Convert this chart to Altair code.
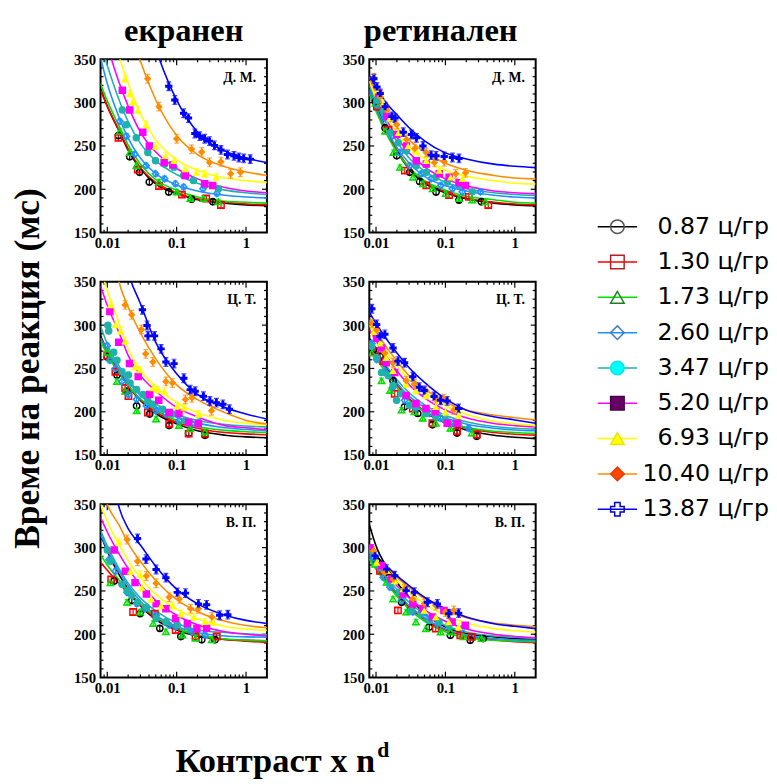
import altair as alt
import pandas as pd

# ---------------- labels ----------------
SERIES = ["0.87", "1.30", "1.73", "2.60", "3.47", "5.20", "6.93", "10.40", "13.87"]
LEGEND_LABELS = ["0.87 ц/гр", "1.30 ц/гр", "1.73 ц/гр", "2.60 ц/гр", "3.47 ц/гр",
                 "5.20 ц/гр", "6.93 ц/гр", "10.40 ц/гр", "13.87 ц/гр"]
COLUMN_TITLES = ["екранен", "ретинален"]
ROW_LABELS = ["Д. М.", "Ц. Т.", "В. П."]
Y_TITLE = "Време на реакция (мс)"
X_TITLE = "Контраст x n"
X_TITLE_SUP = "d"

X_LABEL_VALUES = [0.01, 0.1, 1]
Y_LABEL_VALUES = [150, 200, 250, 300, 350]
X_TICKS_MAJOR = [0.01, 0.1, 1]
X_TICKS_MINOR = [0.009, 0.02, 0.03, 0.04, 0.05, 0.06, 0.07, 0.08, 0.09,
                 0.2, 0.3, 0.4, 0.5, 0.6, 0.7, 0.8, 0.9]
Y_TICKS_MAJOR = [200, 250, 300]
Y_TICKS_MINOR = [160, 170, 180, 190, 210, 220, 230, 240, 260, 270, 280, 290,
                 310, 320, 330, 340]

# ---------------- styles ----------------
PLOT_COLORS = ["#000000", "#FF0000", "#00E000", "#1E90FF", "#20B2AA",
               "#FF00FF", "#FFFF00", "#FF8C00", "#0000FF"]
SHAPES = ["circle", "square", "triangle-up", "diamond", "circle", "square",
          "triangle-up", "diamond", "cross"]
ERR = [3, 3, 3, 3, 3, 3, 4, 5, 5]

LEG_LINE_COLORS = ["#000000", "#B22222", "#1E7F1E", "#4A7DC4", "#00FFFF",
                   "#9B4F9B", "#FFFF00", "#E0A070", "#4040A0"]
LEG_STROKE = ["#555555", "#B22222", "#1E7F1E", "#4A7DC4", "#00E5E5",
              "#4A004A", "#E5E500", "#E03A00", "#0000CC"]
LEG_FILL = ["transparent", "transparent", "transparent", "transparent", "#00FFFF",
            "#660066", "#FFFF00", "#FF4500", "transparent"]
LEG_SHAPES = ["circle", "square", "triangle-up", "diamond", "circle", "square",
              "triangle-up", "diamond", "M0,-1.2L0,1.2"]
LEG_ORDER = [0, 1, 2, 3, 4, 5, 6, 7, 8]

# ---------------- data ----------------
FIT_X = [0.008, 0.01, 0.015, 0.02, 0.03, 0.05, 0.1, 0.2, 0.5, 1, 2]

# екранен, Д. М.
SCR_DM_X = [
    [0.0145, 0.0211, 0.0292, 0.0404, 0.077, 0.164, 0.332],
    [0.0145, 0.0276, 0.0557, 0.119, 0.267, 0.435],
    [0.0152, 0.0211, 0.0262, 0.0557, 0.1, 0.158, 0.243, 0.40],
    [0.0152, 0.0189, 0.0248, 0.0363, 0.0496, 0.067, 0.0957, 0.126, 0.24, 0.38],
    [0.0165, 0.0189, 0.0262, 0.0384, 0.0496, 0.067, 0.0915, 0.126, 0.174, 0.253, 0.40],
    [0.0165, 0.0211, 0.0325, 0.0404, 0.066, 0.088, 0.133, 0.253, 0.33],
    [0.018, 0.0211, 0.0234, 0.0276, 0.0363, 0.0496, 0.069, 0.0915, 0.133, 0.193, 0.253, 0.37],
    [0.0382, 0.0557, 0.1, 0.164, 0.23, 0.298, 0.435, 0.60, 0.83],
    [0.077, 0.094, 0.126, 0.148, 0.183, 0.215, 0.253, 0.298, 0.351, 0.435, 0.540,
     0.670, 0.789, 0.927, 1.15],
]
SCR_DM_Y = [
    [262, 237.5, 219.7, 208.3, 196.9, 188.6, 185.6],
    [259.4, 222.7, 203.8, 193.9, 189.4, 181.8],
    [267, 242.4, 227.3, 208.3, 196.9, 189.4, 189.4, 185.6],
    [278.4, 261.3, 240.5, 227.3, 217.8, 212.1, 206.4, 202.6, 200.7, 195.0],
    [291.6, 274.6, 259.4, 242.4, 232.9, 229.1, 225.3, 215.9, 210.2, 204.5, 200.7],
    [314.4, 291.6, 265.9, 250, 231, 228, 215.9, 206.4, 204.5],
    [327.6, 310.6, 301.1, 291.6, 274.6, 250, 238.6, 232.9, 223.4, 219.7, 217.8, 214],
    [327.6, 295.4, 258.3, 246.2, 243.1, 231, 231.8, 217.8, 219.7],
    [318.9, 303, 287.8, 282.2, 264.4, 261.3, 258.3, 255.6, 250.7, 245.4, 240.1,
     238.6, 236.7, 235.6, 234.8],
]
SCR_DM_FIT = [
    [316, 296, 266, 245, 224, 206, 195, 188, 184, 182, 181],
    [314, 296, 267, 247, 225, 208, 196, 189, 185, 183, 182],
    [322, 302, 272, 251, 229, 211, 199, 191, 186, 185, 184],
    [352, 322, 282, 259, 236, 218, 205, 198, 193, 191, 190],
    [368, 343, 302, 278, 253, 233, 217, 207, 199, 196, 194],
    [405, 368, 322, 296, 266, 243, 224, 212, 202, 198, 196],
    [440, 400, 352, 322, 287, 257, 234, 222, 213, 210, 208],
    [520, 480, 425, 395, 348, 303, 262, 240, 226, 220, 216],
    [700, 620, 540, 480, 420, 362, 303, 266, 244, 236, 231],
]

# ретинален, Д. М.
RET_DM_X = [
    [0.0098, 0.0135, 0.0199, 0.0306, 0.0425, 0.0733, 0.157, 0.33],
    [0.0103, 0.0151, 0.026, 0.053, 0.113, 0.218, 0.415],
    [0.0098, 0.0135, 0.0178, 0.0221, 0.0342, 0.0474, 0.0657, 0.101, 0.157, 0.244, 0.376],
    [0.0103, 0.0135, 0.0169, 0.0221, 0.0306, 0.045, 0.0623, 0.0862, 0.126, 0.175, 0.32],
    [0.0103, 0.0128, 0.0159, 0.021, 0.0275, 0.038, 0.053, 0.073, 0.107, 0.157, 0.244],
    [0.0109, 0.0143, 0.0199, 0.0275, 0.038, 0.053, 0.0815, 0.113, 0.157, 0.195],
    [0.0103, 0.0128, 0.0159, 0.021, 0.029, 0.038, 0.053, 0.0815, 0.119, 0.175],
    [0.0093, 0.0115, 0.0143, 0.0199, 0.0275, 0.0362, 0.0528, 0.0694, 0.096, 0.141, 0.195],
    [0.0093, 0.0103, 0.0115, 0.0135, 0.0169, 0.0188, 0.0247, 0.0324, 0.0382, 0.0475,
     0.0623, 0.0733, 0.096, 0.126, 0.157],
]
RET_DM_Y = [
    [301, 270.8, 238.6, 219.7, 209.1, 196.9, 187.5, 185.6],
    [295.4, 268.9, 221.6, 204.5, 193.2, 191.3, 181.8],
    [299.2, 267, 242.4, 225.3, 214, 206.4, 200.7, 195, 189.4, 187.5, 185.6],
    [297.3, 282.2, 261.3, 242.4, 227.2, 217.8, 212.1, 204.5, 200.7, 197, 197],
    [303, 289.7, 265.1, 253.8, 244.3, 227.2, 219.7, 214, 208.3, 204.5, 197],
    [310.6, 284, 263.2, 250, 232.9, 229.1, 217.8, 214, 207.5, 204.5],
    [314.4, 299.2, 282.2, 265.1, 250, 244.3, 232.9, 221.6, 214, 212.1],
    [328.8, 306.8, 291.6, 274.6, 257.5, 247, 242.4, 231, 231.8, 217.8, 219],
    [327.6, 318.1, 310.6, 295.4, 284, 282.2, 265.9, 263.2, 259.4, 250, 239.4, 238.6,
     237.9, 236.7, 235.6],
]
RET_DM_FIT = [
    [318, 298, 264, 244, 223, 207, 196, 189, 184, 182, 181],
    [312, 292, 262, 245, 225, 209, 197, 190, 185, 183, 182],
    [310, 290, 260, 243, 225, 210, 199, 192, 188, 185, 184],
    [315, 295, 265, 248, 230, 215, 204, 198, 193, 191, 190],
    [320, 300, 272, 255, 236, 221, 208, 201, 196, 194, 193],
    [325, 305, 277, 260, 242, 226, 212, 204, 198, 196, 195],
    [325, 305, 280, 265, 248, 235, 222, 215, 210, 207, 206],
    [330, 312, 287, 272, 257, 243, 230, 222, 216, 213, 212],
    [331, 318, 297, 286, 271, 256, 242, 235, 229, 226.5, 225],
]

# екранен, Ц. Т.
SCR_CT_X = [
    [0.01, 0.0138, 0.0191, 0.0265, 0.0408, 0.078, 0.149, 0.256],
    [0.01, 0.0131, 0.0181, 0.0202, 0.0385, 0.078, 0.149, 0.256],
    [0.01, 0.0112, 0.0138, 0.0181, 0.0265, 0.0506, 0.108, 0.157, 0.256],
    [0.01, 0.0109, 0.0131, 0.0163, 0.0202, 0.0265, 0.0368, 0.0506, 0.070, 0.108, 0.166],
    [0.0102, 0.0105, 0.0124, 0.0138, 0.0163, 0.0202, 0.0213, 0.0265, 0.0328, 0.0385,
     0.0454, 0.0628, 0.0869, 0.134, 0.206],
    [0.0109, 0.0146, 0.0209, 0.0279, 0.0408, 0.0552, 0.078, 0.108, 0.149, 0.206],
    [0.0111, 0.0131, 0.0154, 0.0181, 0.0251, 0.0295, 0.0454, 0.0534, 0.0664, 0.102,
     0.127, 0.206],
    [0.0181, 0.0225, 0.0311, 0.0358, 0.0454, 0.070, 0.0869, 0.134, 0.166, 0.318],
    [0.0321, 0.0374, 0.0386, 0.048, 0.0596, 0.070, 0.0917, 0.127, 0.157, 0.185, 0.243,
     0.301, 0.374, 0.464, 0.576],
]
SCR_CT_Y = [
    [263.2, 242.5, 223.7, 206.8, 197.4, 184.2, 174.8, 172.9],
    [265, 246.2, 227.4, 218, 199.2, 186.1, 174.8, 174.8],
    [268.8, 261.3, 235, 223.7, 201.1, 191.7, 184.2, 180.5, 176.7],
    [276.3, 259.4, 250, 235, 220, 214.3, 206.8, 201.1, 197.4, 189.8, 186.1],
    [300, 293.2, 268.8, 259.4, 246.2, 242.5, 233.1, 225.6, 219.9, 212.4, 208.6, 203,
     197.4, 189.8, 188],
    [315.8, 280.1, 255.6, 240.6, 219.9, 213.2, 199.2, 198, 188, 186.1],
    [323.3, 300.8, 293.2, 282, 251.9, 248.1, 227.4, 225.6, 223.7, 206.8, 204.9, 197.4],
    [323.3, 312, 295.1, 266.9, 257.5, 235, 233.1, 214.3, 216.2, 201.1],
    [317.7, 299.6, 287.6, 287.6, 272.6, 257.5, 255.6, 238.7, 225.6, 223.7, 218, 212.4,
     210.5, 208.6, 203],
]
SCR_CT_FIT = [
    [288, 270, 246, 230, 213, 198, 186, 178, 173, 171, 170],
    [285, 268, 245, 230, 214, 200, 188, 181, 176, 174.5, 173.5],
    [282, 266, 244, 230, 215, 202, 190, 183, 178.5, 177, 176],
    [285, 272, 248, 234, 219, 206, 194, 187, 181.5, 179.5, 178],
    [299, 278, 252, 237, 222, 209, 197, 190, 185.3, 183.5, 182.3],
    [345, 323, 290, 265, 242, 224, 205, 194, 184, 181.6, 179.3],
    [365, 340, 301, 273, 248, 229, 210.5, 199, 190, 186.8, 185],
    [480, 430, 348, 321, 291, 261, 231, 214, 199, 190, 186],
    [520, 470, 400, 360, 325, 280, 244, 220, 205, 197.4, 191.7],
]

# ретинален, Ц. Т.
RET_CT_X = [
    [0.0092, 0.0114, 0.0176, 0.0258, 0.0399, 0.065, 0.147, 0.283],
    [0.0097, 0.0127, 0.0186, 0.0339, 0.065, 0.147, 0.283],
    [0.0087, 0.012, 0.0159, 0.0233, 0.0357, 0.047, 0.0726, 0.118, 0.24],
    [0.0087, 0.0102, 0.0134, 0.0176, 0.0258, 0.0376, 0.0585, 0.0853, 0.132, 0.216],
    [0.0087, 0.0102, 0.012, 0.0151, 0.0176, 0.0198, 0.0233, 0.0304, 0.0376, 0.0524,
     0.0726, 0.1, 0.155],
    [0.0102, 0.012, 0.014, 0.0186, 0.0272, 0.0376, 0.0524, 0.0726, 0.106, 0.147],
    [0.0092, 0.0114, 0.014, 0.0176, 0.0272, 0.0376, 0.0524, 0.0726, 0.1, 0.155],
    [0.0087, 0.0102, 0.0134, 0.0176, 0.0272, 0.0357, 0.0524, 0.0726, 0.095, 0.132],
    [0.0087, 0.0102, 0.0114, 0.0134, 0.0176, 0.0207, 0.0258, 0.0339, 0.042, 0.0495,
     0.0687, 0.0853, 0.106, 0.155],
]
RET_CT_Y = [
    [271.7, 264.2, 235.8, 205.7, 198.1, 185, 175.5, 171.7],
    [269.8, 258.5, 220.8, 203.8, 186.8, 177.4, 173.6],
    [267.9, 235.8, 224.5, 201.9, 200, 192.5, 186.8, 181, 175.5],
    [279.2, 260.4, 245.3, 228.3, 213.2, 203.8, 198.1, 192.5, 186.8, 181],
    [275.5, 262.3, 245.3, 241.5, 230.2, 213.2, 220.8, 207.5, 205.7, 198.1, 194.3,
     190.6, 186.8],
    [284.9, 273.6, 256.6, 245.3, 218.9, 209.4, 203.8, 200, 186.8, 186.8],
    [292.5, 279.2, 262.3, 247.2, 232.1, 224.5, 218.9, 205.7, 200, 196.2],
    [301.9, 294.3, 267.9, 256.6, 235.8, 232.1, 224.5, 215.1, 215.1, 201.9],
    [318.9, 300.8, 286.8, 289.4, 273.6, 258.5, 256.6, 240.4, 228.3, 224.5, 217.7,
     213.2, 212.5, 203.8],
]
RET_CT_FIT = [
    [285, 270, 248, 233, 215, 200, 187, 179, 173, 170.5, 169],
    [280, 266, 245, 231, 215, 201, 189, 181, 176, 174, 173],
    [275, 262, 242, 228, 213, 200, 189, 182, 177.5, 176, 175],
    [278, 266, 246, 233, 218, 205, 193, 186, 181, 179, 178],
    [282, 270, 250, 237, 222, 208, 196, 188.5, 183, 181, 180],
    [295, 282, 261, 247, 231, 216, 202, 193, 186.5, 184, 182.5],
    [300, 286, 266, 253, 237, 222, 207, 197, 189, 186, 184],
    [305.7, 292.5, 271.7, 258.5, 241.5, 226.4, 211.3, 201.9, 196.2, 193.2, 190.6],
    [315, 301.9, 281.1, 267.9, 250.9, 234, 215.1, 201.9, 194.3, 190.6, 186.8],
]

# екранен, В. П.
SCR_VP_X = [
    [0.0126, 0.0226, 0.0298, 0.0572, 0.115, 0.23, 0.358],
    [0.0114, 0.0236, 0.0484, 0.0967, 0.187, 0.378],
    [0.0111, 0.0193, 0.0298, 0.0459, 0.070, 0.121, 0.187, 0.321],
    [0.0106, 0.0131, 0.0193, 0.0267, 0.0348, 0.0506, 0.078, 0.0967, 0.166, 0.256],
    [0.01, 0.0111, 0.0163, 0.0193, 0.0226, 0.0273, 0.0366, 0.0506, 0.070, 0.102, 0.143],
    [0.0126, 0.0182, 0.0251, 0.0366, 0.0506, 0.070, 0.0967, 0.143, 0.196, 0.27],
    [0.0148, 0.0215, 0.0298, 0.0314, 0.043, 0.0596, 0.0879, 0.115, 0.177, 0.256, 0.336],
    [0.0193, 0.0273, 0.0366, 0.0506, 0.078, 0.109, 0.159, 0.206, 0.321],
    [0.0273, 0.0362, 0.0506, 0.070, 0.102, 0.134, 0.206, 0.27, 0.417, 0.546],
]
SCR_VP_Y = [
    [261.5, 238.9, 223.8, 206.8, 197.4, 193.6, 193.6],
    [263.4, 225.7, 223.8, 204.9, 197.4, 197.4],
    [259.6, 237, 225.7, 212.5, 203, 199.2, 195.5, 193.6],
    [286, 272.8, 248.3, 235.1, 229.4, 221.9, 210.6, 208.7, 203, 199.2],
    [297.4, 284.2, 257.7, 250.2, 244.5, 237, 231.3, 218.1, 214.3, 210.6, 208.7],
    [297.4, 272.8, 259.6, 246.4, 235.1, 229.4, 218.1, 212.5, 206.8, 206.8],
    [306.8, 272.8, 269.1, 254, 240.8, 233.2, 233.2, 223.8, 220, 214.3, 214.3],
    [309.4, 284.2, 267.2, 258.9, 242.6, 240.8, 229.4, 229.4, 220],
    [310.6, 286.8, 274.7, 265.3, 248.3, 247.5, 235.1, 234, 221.9, 222.6],
]
SCR_VP_FIT = [
    [315, 296, 268, 252, 233, 217, 205, 198, 194, 193, 192.5],
    [283, 274, 258, 247, 233, 219, 207, 199, 194, 192, 190.5],
    [292, 280, 262, 250, 235, 220, 207, 199, 194.5, 193, 192.5],
    [315, 298, 272, 256, 238, 222, 209, 202, 198, 197, 196.5],
    [320, 302, 275, 259, 242, 227, 213, 205, 202, 200.5, 199.5],
    [335, 318, 292, 276, 257, 239, 222, 211, 203, 200, 198],
    [350, 330, 302, 285, 265, 246, 229, 218, 209, 206, 204.5],
    [375, 350, 325, 305, 284, 262, 240, 226, 215, 210, 207.5],
    [460, 420, 345, 322, 303, 278.5, 252, 235, 222, 216, 212.5],
]

# ретинален, В. П.
RET_VP_X = [
    [0.0102, 0.0151, 0.0233, 0.0585, 0.118, 0.228, 0.352],
    [0.0114, 0.0207, 0.0322, 0.0726, 0.164, 0.24],
    [0.0097, 0.0142, 0.0176, 0.0272, 0.0376, 0.0524, 0.0853, 0.118, 0.183, 0.333],
    [0.0092, 0.0127, 0.0159, 0.0233, 0.0339, 0.0524, 0.0766, 0.112, 0.174],
    [0.0087, 0.0114, 0.0159, 0.0218, 0.0322, 0.0444, 0.0585, 0.0809, 0.112],
    [0.0082, 0.012, 0.0167, 0.0245, 0.0339, 0.047, 0.065, 0.095, 0.125, 0.193],
    [0.0102, 0.014, 0.0186, 0.0245, 0.0357, 0.0495, 0.0726, 0.112, 0.155],
    [0.0092, 0.0134, 0.0176, 0.0258, 0.0339, 0.0495, 0.0726, 0.1, 0.132],
    [0.0097, 0.0142, 0.0186, 0.0272, 0.0357, 0.0552, 0.0766, 0.112, 0.155],
]
RET_VP_Y = [
    [284.7, 265.6, 237, 208.4, 198.9, 193.1, 195],
    [273.3, 227.5, 227.5, 206.5, 198.9, 197],
    [280.9, 259.9, 240.8, 225.6, 214.1, 206.5, 202.7, 202.7, 197, 195],
    [288.5, 265.6, 254.2, 238.9, 225.6, 219.8, 212.2, 210.3, 206.5],
    [296.2, 277.1, 258, 248.5, 227.5, 223.7, 216, 214.1, 210.3],
    [300, 279, 263.7, 246.6, 235.1, 229.4, 219.8, 227.5, 214.1, 210.3],
    [282.8, 273.3, 261.8, 252.3, 242.7, 227.5, 219.8, 214.1, 208.4],
    [296.2, 271.4, 263.7, 252.3, 240.8, 235.1, 233.2, 225.6, 227.5],
    [290.5, 275.2, 267.6, 250.4, 248.5, 237, 235.1, 223.7, 224.4],
]
RET_VP_FIT = [
    [326.7, 302, 275, 260, 242.7, 223.7, 208.4, 200.8, 197, 195, 194],
    [287, 276, 258, 246, 231, 217, 205, 198, 193.5, 191.5, 190.5],
    [287, 275, 256, 244, 229, 215, 203, 196, 193, 192, 191.5],
    [290, 278, 260, 248, 233, 219, 206, 199, 195, 193.5, 193],
    [292, 281, 264, 252, 237, 223, 210, 202.5, 198, 196.5, 196],
    [296, 285, 268, 256, 242, 228, 215, 206, 200, 197.5, 196],
    [298, 288, 272, 262, 249, 235, 222, 213, 206.5, 204, 202.5],
    [302, 291, 276, 266, 254, 241, 228, 219, 213, 210.5, 209],
    [300, 290.5, 277.1, 267.6, 256.1, 242.7, 229.4, 219.8, 212.2, 209.2, 206.5],
]

PANELS = [
    (SCR_DM_X, SCR_DM_Y, SCR_DM_FIT),
    (RET_DM_X, RET_DM_Y, RET_DM_FIT),
    (SCR_CT_X, SCR_CT_Y, SCR_CT_FIT),
    (RET_CT_X, RET_CT_Y, RET_CT_FIT),
    (SCR_VP_X, SCR_VP_Y, SCR_VP_FIT),
    (RET_VP_X, RET_VP_Y, RET_VP_FIT),
]

# ---------------- chart ----------------
W, H = 169, 176
SERIF = "Liberation Serif"
XS = alt.Scale(type="log", domain=[0.008, 2.0], nice=False)
YS = alt.Scale(domain=[150, 350], nice=False, zero=False)
COLOR = alt.Color("s:N", scale=alt.Scale(domain=SERIES, range=PLOT_COLORS), legend=None)
SHAPE = alt.Shape("s:N", scale=alt.Scale(domain=SERIES, range=SHAPES), legend=None)

XAX = alt.Axis(values=X_LABEL_VALUES, format="~g", labelFont=SERIF,
               labelFontWeight="bold", labelFontSize=15, labelColor="black",
               labelPadding=3, ticks=False, domain=False, grid=False,
               title=None, labelOverlap=False, labelFlush=False)
YAX = alt.Axis(values=Y_LABEL_VALUES, format="d", labelFont=SERIF,
               labelFontWeight="bold", labelFontSize=15, labelColor="black",
               labelPadding=5, ticks=False, domain=False, grid=False,
               title=None, labelOverlap=False, labelFlush=False)


def text_layer(txt, x, y, size, align="center", baseline="alphabetic", angle=0,
               font=SERIF, weight="bold"):
    return alt.Chart(pd.DataFrame({"t": [txt]})).mark_text(
        font=font, fontWeight=weight, fontSize=size, align=align,
        baseline=baseline, angle=angle, color="black").encode(
        text="t:N", x=alt.value(x), y=alt.value(y))


def make_panel(idx):
    px, py, fits = PANELS[idx]
    row, col = divmod(idx, 2)
    X = alt.X("x:Q", scale=XS, axis=XAX)
    Y = alt.Y("y:Q", scale=YS, axis=YAX)

    pts, caps, fit = [], [], []
    for i, s in enumerate(SERIES):
        for xv, yv in zip(px[i], py[i]):
            pts.append(dict(s=s, k=i, x=xv, y=yv, lo=yv - ERR[i], hi=yv + ERR[i]))
            caps.append(dict(s=s, x=xv, y=yv - ERR[i]))
            caps.append(dict(s=s, x=xv, y=yv + ERR[i]))
        for xv, yv in zip(FIT_X, fits[i]):
            fit.append(dict(s=s, x=xv, y=yv))
    pts = pd.DataFrame(pts)
    caps = pd.DataFrame(caps)
    fit = pd.DataFrame(fit)
    open_pts = pts[pts["k"] <= 3]
    fill_pts = pts[(pts["k"] >= 4) & (pts["k"] <= 7)]
    cross_pts = pts[pts["k"] == 8]

    layers = []
    # inward ticks on all four sides
    for vals, ln in ((Y_TICKS_MAJOR, 5), (Y_TICKS_MINOR, 3)):
        d = pd.DataFrame({"y": vals})
        layers.append(alt.Chart(d).mark_rule(color="black", strokeWidth=1.2).encode(
            y=Y, x=alt.value(0), x2=alt.value(ln)))
        layers.append(alt.Chart(d).mark_rule(color="black", strokeWidth=1.2).encode(
            y=Y, x=alt.value(W - ln), x2=alt.value(W)))
    for vals, ln in ((X_TICKS_MAJOR, 6), (X_TICKS_MINOR, 3)):
        d = pd.DataFrame({"x": vals})
        layers.append(alt.Chart(d).mark_rule(color="black", strokeWidth=1.2).encode(
            x=X, y=alt.value(H - ln), y2=alt.value(H)))
        layers.append(alt.Chart(d).mark_rule(color="black", strokeWidth=1.2).encode(
            x=X, y=alt.value(0), y2=alt.value(ln)))

    layers.append(alt.Chart(fit).mark_line(clip=True, strokeWidth=1.6,
                                           interpolate="monotone").encode(X, Y, color=COLOR))
    layers.append(alt.Chart(pts).mark_rule(clip=True, strokeWidth=1.2).encode(
        X, alt.Y("lo:Q", scale=YS, axis=YAX), y2="hi:Q", color=COLOR))
    layers.append(alt.Chart(caps).mark_tick(clip=True, orient="horizontal", size=5,
                                            thickness=1.2).encode(X, Y, color=COLOR))
    layers.append(alt.Chart(open_pts).mark_point(
        clip=True, filled=False, strokeWidth=1.5, opacity=1, size=42).encode(
        X, Y, color=COLOR, shape=SHAPE))
    layers.append(alt.Chart(fill_pts).mark_point(
        clip=True, filled=True, opacity=1, size=58).encode(
        X, Y, color=COLOR, shape=SHAPE))
    layers.append(alt.Chart(cross_pts).mark_point(
        clip=True, filled=True, opacity=1, size=55).encode(
        X, Y, color=COLOR, shape=SHAPE))

    layers.append(text_layer(ROW_LABELS[row], W - 11, 23, 14, align="right"))

    if row == 0:
        layers.append(text_layer(COLUMN_TITLES[col], W / 2 + (0 if col == 0 else -12),
                                 -19, 33))
    if idx == 2:
        layers.append(text_layer(Y_TITLE, -74, H / 2, 36, baseline="middle", angle=270))
    if idx == 4:
        layers.append(text_layer(X_TITLE, 279, 272, 35, align="right"))
        layers.append(text_layer(X_TITLE_SUP, 281, 257, 22, align="left"))

    return alt.layer(*layers).properties(
        width=W, height=H, view=alt.ViewBackground(stroke="black", strokeWidth=2))


panels = [make_panel(i) for i in range(6)]

# legend (custom, to show line + marker as in the reference)
leg = pd.DataFrame({"label": LEGEND_LABELS, "idx": LEG_ORDER})
LY = alt.Y("idx:Q", scale=alt.Scale(domain=[0, 8], range=[170, 457], nice=False,
                                    zero=False), axis=None)
leg_lines = alt.Chart(leg).mark_rule(strokeWidth=1.5).encode(
    y=LY, x=alt.value(-41), x2=alt.value(-1),
    color=alt.Color("label:N", scale=alt.Scale(domain=LEGEND_LABELS, range=LEG_LINE_COLORS),
                    legend=None))
leg_marks = alt.Chart(leg).mark_point(filled=True, strokeWidth=1.5, opacity=1,
                                      size=190).encode(
    y=LY, x=alt.value(-21),
    shape=alt.Shape("label:N", scale=alt.Scale(domain=LEGEND_LABELS, range=LEG_SHAPES),
                    legend=None),
    fill=alt.Fill("label:N", scale=alt.Scale(domain=LEGEND_LABELS, range=LEG_FILL),
                  legend=None),
    stroke=alt.Stroke("label:N", scale=alt.Scale(domain=LEGEND_LABELS, range=LEG_STROKE),
                      legend=None))
leg_text = alt.Chart(leg).mark_text(font="DejaVu Sans", fontSize=24, align="right",
                                    baseline="middle", color="black").encode(
    y=LY, x=alt.value(133), text="label:N")
legend = alt.layer(leg_lines, leg_marks, leg_text).properties(
    width=100, height=H, view=alt.ViewBackground(stroke="transparent", strokeWidth=0))

blank = alt.Chart(pd.DataFrame({"t": [""]})).mark_text().encode(
    text="t:N", x=alt.value(0), y=alt.value(0)).properties(
    width=1, height=1, view=alt.ViewBackground(stroke="transparent", strokeWidth=0))

chart = alt.concat(
    panels[0], panels[1], legend,
    panels[2], panels[3], blank,
    panels[4], panels[5],
    columns=3, spacing={"row": 50, "column": 104}, bounds="flush", padding=0,
    background="white",
).configure_view(strokeWidth=0)

chart.save("out.html", embed_options={"renderer": "svg", "actions": False})
